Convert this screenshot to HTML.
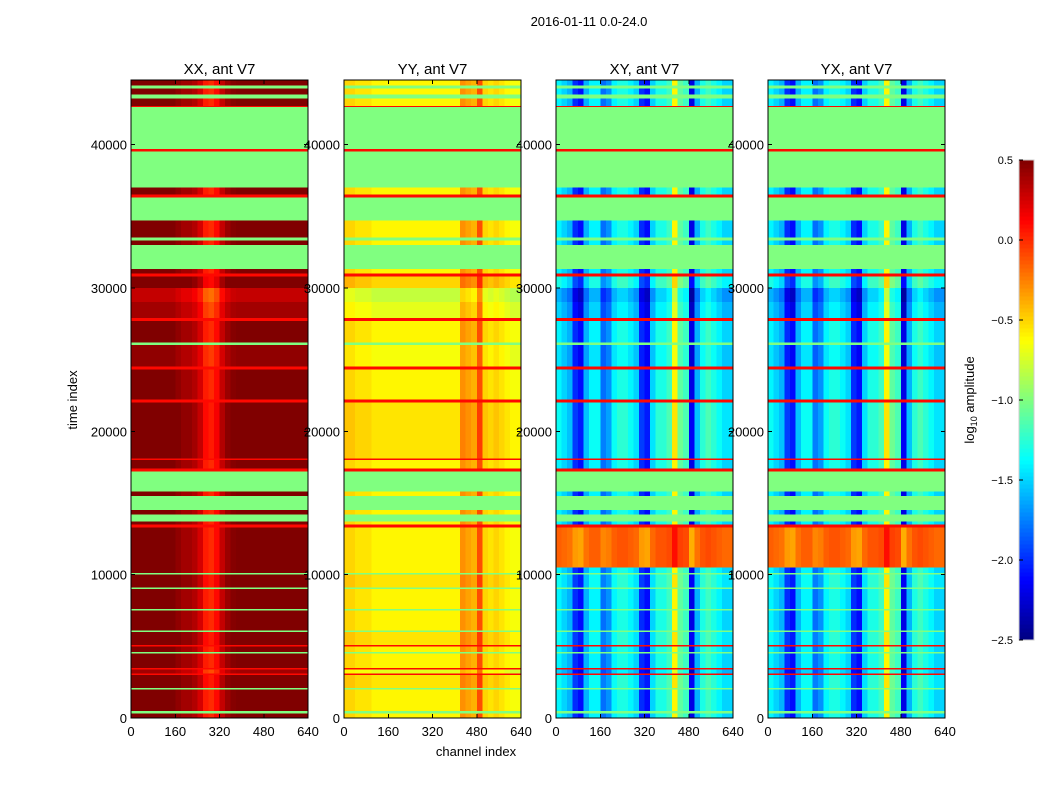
<!DOCTYPE html>
<html><head><meta charset="utf-8"><style>
body{margin:0;background:#fff}
svg text{font-family:"Liberation Sans",sans-serif;fill:#000}
</style></head><body>
<svg id="fig" width="1050" height="800" xmlns="http://www.w3.org/2000/svg" shape-rendering="crispEdges">
<rect width="1050" height="800" fill="#fff"/>
<text x="589" y="26" font-size="13" text-anchor="middle">2016-01-11 0.0-24.0</text>
<text x="476" y="756" font-size="13" text-anchor="middle">channel index</text>
<text transform="translate(77,400) rotate(-90)" font-size="13" text-anchor="middle">time index</text>
<text transform="translate(974,400) rotate(-90)" font-size="13" text-anchor="middle">log<tspan font-size="9" dy="3">10</tspan><tspan dy="-3"> amplitude</tspan></text>
</svg>
<script>
// time segments: [start, end, kind, offset]  kind: d=data, f=flagged, r=red line, h=high
const segments = [
[0,300,'d',0],[300,500,'f',0],[500,2000,'d',0],[2000,2100,'f',0],[2100,3000,'d',0.05],[3000,3100,'r',0],
[3100,3400,'d',-0.1],[3400,3500,'r',0],[3500,4500,'d',0],[4500,4600,'f',0],[4600,5000,'d',0],[5000,5100,'r',0],
[5100,6000,'d',0.05],[6000,6100,'f',0],[6100,7500,'d',0],[7500,7600,'f',0],[7600,9000,'d',0],[9000,9100,'f',0],
[9100,10000,'d',0.05],[10000,10100,'f',0],[10100,10500,'d',0],[10500,13300,'h',0],[13300,13500,'r',0],
[13500,13700,'d',0],[13700,14200,'f',0],[14200,14500,'d',0],[14500,15500,'f',0],[15500,15800,'d',0],
[15800,17200,'f',0],[17200,17400,'r',0],[17400,18000,'d',0],[18000,18100,'r',0],[18100,22000,'d',0.05],
[22000,22200,'r',0],[22200,24300,'d',0],[24300,24500,'r',0],[24500,26000,'d',-0.05],[26000,26200,'f',0],
[26200,27700,'d',0],[27700,27900,'r',0],[27900,29000,'d',-0.1],[29000,30000,'d',-0.2],[30000,30800,'d',0.1],
[30800,31000,'r',0],[31000,31300,'d',0],[31300,33000,'f',0],[33000,33300,'d',0],[33300,33500,'f',0],[33500,34700,'d',0],[34700,36300,'f',0],
[36300,36500,'r',0],[36500,37000,'d',0],[37000,39500,'f',0],[39500,39700,'r',0],[39700,42600,'f',0],
[42600,42700,'r',0],[42700,43200,'d',0],[43200,43500,'f',0],[43500,43900,'d',0],[43900,44100,'f',0],[44100,44500,'d',0]
];
const panelTitles = ['XX, ant V7','YY, ant V7','XY, ant V7','YX, ant V7'];
const profileXX = [0.5,0.5,0.5,0.5,0.5,0.5,0.5,0.5,0.45,0.4,0.4,0.35,0.25,0.05,0.0,0.1,0.3,0.42,0.48,0.5,0.5,0.5,0.5,0.5,0.5,0.5,0.5,0.5,0.5,0.5,0.5,0.5];
const profileYY = [-0.5,-0.5,-0.55,-0.55,-0.55,-0.6,-0.6,-0.6,-0.6,-0.6,-0.6,-0.6,-0.6,-0.6,-0.6,-0.6,-0.6,-0.6,-0.6,-0.6,-0.6,-0.3,-0.35,-0.4,-0.1,-0.5,-0.55,-0.5,-0.55,-0.6,-0.65,-0.65];
const profileXY = [-1.4,-1.5,-1.6,-2.0,-2.1,-1.6,-1.4,-1.4,-1.8,-1.7,-1.4,-1.3,-1.3,-1.4,-1.5,-2.0,-2.1,-1.5,-1.3,-1.3,-1.2,-0.6,-1.1,-1.2,-2.2,-1.6,-1.3,-1.2,-1.3,-1.4,-1.5,-1.5];
const profileYX = [-1.4,-1.5,-1.6,-2.0,-2.1,-1.6,-1.4,-1.4,-1.8,-1.7,-1.4,-1.3,-1.3,-1.4,-1.5,-2.0,-2.1,-1.5,-1.3,-1.3,-1.2,-0.6,-1.1,-1.2,-2.2,-1.6,-1.3,-1.2,-1.3,-1.4,-1.5,-1.5];
const profiles = [profileXX, profileYY, profileXY, profileYX];
const highLevel = [0.5,-0.5,-0.15,-0.15];
const yTicks = [0,10000,20000,30000,40000];
const xTicks = [0,160,320,480,640];
const cbTicks = [0.5,0.0,-0.5,-1.0,-1.5,-2.0,-2.5];

const NS='http://www.w3.org/2000/svg';
const svg=document.getElementById('fig');
const VMIN=-2.5,VMAX=0.5,TMAX=44500,CMAX=640;
const panelX=[131,344,556,768], PW=177, PT=80, PB=718;
function ys(t){return PB-(t/TMAX)*(PB-PT);}
function xs(p,c){return panelX[p]+c/CMAX*PW;}
function jet(v){
  let x=(v-VMIN)/(VMAX-VMIN); x=Math.max(0,Math.min(1,x));
  const f=t=>Math.max(0,Math.min(1,1.5-Math.abs(4*x-t)));
  return 'rgb('+Math.round(255*f(3))+','+Math.round(255*f(2))+','+Math.round(255*f(1))+')';
}
function el(tag,attrs,parent){const e=document.createElementNS(NS,tag);for(const k in attrs)e.setAttribute(k,attrs[k]);(parent||svg).appendChild(e);return e;}

for(let p=0;p<4;p++){
  const g=el('g',{});
  
  
  const prof=profiles[p], nb=prof.length, bw=CMAX/nb;
  for(const s of segments){
    const y0=ys(s[1]), y1=ys(s[0]);
    if(s[2]==='f'||s[2]==='r'){
      const r=el('rect',{x:xs(p,0),y:y0,width:PW,height:Math.max(1,y1-y0),fill:jet(s[2]==='f'?-1.0:0.1)},g);
      
      
      continue;
    }
    for(let i=0;i<nb;i++){
      let v=prof[i]+s[3];
      if(s[2]==='h' && p>=2) v=highLevel[p]+(prof[i]+1.4)*0.3;
      const x0=xs(p,i*bw), x1=xs(p,(i+1)*bw);
      const r=el('rect',{x:x0,y:y0,width:x1-x0+0.3,height:Math.max(1,y1-y0),fill:jet(v)},g);
      
      
    }
  }
  const fr=el('rect',{x:panelX[p],y:PT,width:PW,height:PB-PT,fill:'none',stroke:'#000','stroke-width':1});
  
  
  const tt=el('text',{x:panelX[p]+PW/2,y:74,'font-size':15,'text-anchor':'middle'});
  tt.textContent=panelTitles[p];
  
  
  for(const t of yTicks){
    const y=ys(t);
    el('line',{x1:panelX[p],x2:panelX[p]+4,y1:y,y2:y,stroke:'#000'});
    el('line',{x1:panelX[p]+PW-4,x2:panelX[p]+PW,y1:y,y2:y,stroke:'#000'});
    const lb=el('text',{x:panelX[p]-4,y:y+5,'font-size':13,'text-anchor':'end'});
    lb.textContent=t;
    
    
  }
  for(const c of xTicks){
    const x=xs(p,c);
    el('line',{x1:x,x2:x,y1:PB,y2:PB-4,stroke:'#000'});
    el('line',{x1:x,x2:x,y1:PT,y2:PT+4,stroke:'#000'});
    const lb=el('text',{x:x,y:736,'font-size':13,'text-anchor':'middle'});
    lb.textContent=c;
    
    
  }
}
// colorbar
const CBX=1019,CBW=15,CBT=160,CBB=640;
function cy(v){return CBB-(v-VMIN)/(VMAX-VMIN)*(CBB-CBT);}
const cg=el('g',{});


for(let i=0;i<120;i++){
  const v0=VMIN+i*(VMAX-VMIN)/120, v1=VMIN+(i+1)*(VMAX-VMIN)/120;
  el('rect',{x:CBX,y:cy(v1),width:CBW,height:cy(v0)-cy(v1)+0.5,fill:jet((v0+v1)/2)},cg);
}
el('rect',{x:CBX,y:CBT,width:CBW,height:CBB-CBT,fill:'none',stroke:'#ccc'},cg);
for(const v of cbTicks){
  const y=cy(v);
  el('line',{x1:CBX,x2:CBX+4,y1:y,y2:y,stroke:'#000'},cg);
  const lb=el('text',{x:1013,y:y+4,'font-size':11,'text-anchor':'end'},cg);
  lb.textContent=v.toFixed(1).replace('-','\u2212');
  
  
}
</script>
</body></html>
